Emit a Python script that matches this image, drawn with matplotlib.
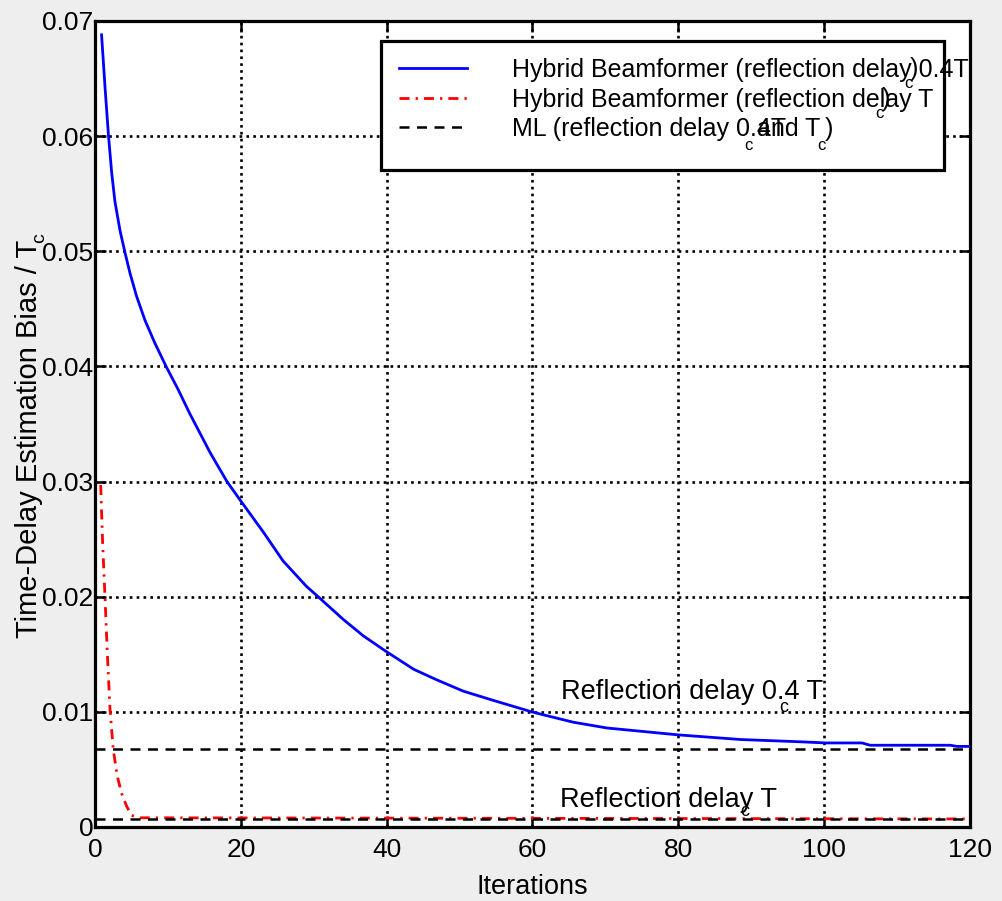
import matplotlib
matplotlib.use("Agg")
import matplotlib.pyplot as plt
from matplotlib.patches import Rectangle

plt.rcParams['font.family'] = ['Liberation Sans', 'DejaVu Sans']

# ---------------- data ----------------
hb04_iter = [0.9, 1.37, 1.83, 2.29, 2.74, 3.43, 4.11, 4.8, 5.7, 6.86, 8.23, 9.83,
             11.4, 13.0, 14.4, 15.8, 18.1, 19.9, 23.1, 25.8, 29.0, 30.6, 34.1,
             36.8, 39.8, 43.7, 46.8, 50.5, 54.6, 59.9, 62.4, 65.6, 70.2, 80,
             88.5, 96.7, 100.3, 105.2, 106.3, 117.3, 118.2, 120]
hb04_bias = [0.0688, 0.0643, 0.0602, 0.0568, 0.0543, 0.0518, 0.0499, 0.0481, 0.0461,
             0.0440, 0.0420, 0.0399, 0.0380, 0.0359, 0.0342, 0.0325, 0.0300, 0.0284,
             0.0256, 0.0231, 0.0209, 0.0200, 0.0180, 0.0166, 0.0153, 0.0137, 0.0128,
             0.0118, 0.0110, 0.0100, 0.0096, 0.0091, 0.0086, 0.0080, 0.0076, 0.0074,
             0.0073, 0.0073, 0.0071, 0.0071, 0.0070, 0.0070]

hbT_iter = [0.78, 1.05, 1.37, 1.69, 2.06, 2.51, 3.06, 3.66, 4.34, 5.03, 6.17, 120]
hbT_bias = [0.0297, 0.0246, 0.0200, 0.0151, 0.0102, 0.0067, 0.0044, 0.0029, 0.0018,
            0.0010, 0.0008, 0.0007]

ml_iter = [0, 120]
ml_bias_04 = [0.0068, 0.0068]
ml_bias_T = [0.0007, 0.0007]

xticks = [0, 20, 40, 60, 80, 100, 120]
yticks = [0, 0.01, 0.02, 0.03, 0.04, 0.05, 0.06, 0.07]
ytick_labels = ["0", "0.01", "0.02", "0.03", "0.04", "0.05", "0.06", "0.07"]

legend_labels = ["Hybrid Beamformer (reflection delay 0.4T",
                 "Hybrid Beamformer (reflection delay T",
                 "ML (reflection delay 0.4T"]

# ---------------- figure ----------------
W, H = 1002, 901
fig = plt.figure(figsize=(W / 100, H / 100), dpi=100, facecolor='#eeeeee')
ax = fig.add_axes([95 / W, (H - 827) / H, 875 / W, 806 / H])
ax.set_facecolor('white')


def fx(px):
    return px / W


def fy(py):
    return 1 - py / H


l1, = ax.plot(hb04_iter, hb04_bias, color='#0000ff', lw=2.0, zorder=3)
l2, = ax.plot(hbT_iter, hbT_bias, color='#ff0000', lw=2.0,
              linestyle=(0, (3.6, 2.2, 0.8, 2.2)), zorder=3)
l3, = ax.plot(ml_iter, ml_bias_04, color='black', lw=1.8,
              linestyle=(0, (4, 3)), zorder=4)
ax.plot(ml_iter, ml_bias_T, color='black', lw=1.8,
        linestyle=(0, (4, 3)), zorder=4)

ax.set_xlim(0, 120)
ax.set_ylim(0, 0.07)
ax.set_xticks(xticks)
ax.set_xticklabels([str(t) for t in xticks])
ax.set_yticks(yticks)
ax.set_yticklabels(ytick_labels)
ax.tick_params(axis='both', direction='in', length=8, width=1.8,
               labelsize=19, top=True, right=True, colors='black')
ax.tick_params(axis='x', pad=8)
ax.tick_params(axis='y', pad=1)
ax.grid(True, color='black', linestyle=(0, (1, 1.6)), linewidth=1.9, zorder=1)
ax.set_axisbelow(True)
for s in ax.spines.values():
    s.set_linewidth(2.3)
    s.set_color('black')

ax.set_xlabel("Iterations", fontsize=19.5)
ax.xaxis.set_label_coords(0.5, -0.058)
ax.set_ylabel("Time-Delay Estimation Bias / T", fontsize=21)
ax.yaxis.set_label_coords(-0.059, 0.482)
fig.text(fx(40), fy(238), "c", fontsize=14, rotation=90,
         ha='center', va='center')

# ---------------- legend ----------------
ax.add_patch(Rectangle((fx(381), fy(170)), fx(944) - fx(381), fy(41) - fy(170),
                       transform=fig.transFigure, facecolor='white',
                       edgecolor='black', linewidth=2.3, zorder=6,
                       clip_on=False))
leg = ax.legend([l1, l2, l3], legend_labels, loc='upper left',
                bbox_to_anchor=(fx(399), fy(58)), bbox_transform=fig.transFigure,
                frameon=False, fontsize=18, handlelength=2.72,
                handletextpad=1.8, labelspacing=0.22, borderpad=0,
                borderaxespad=0)
leg.set_zorder(7)

sub = dict(fontsize=12, ha='center', va='center', zorder=8)
txt = dict(fontsize=18, ha='center', va='baseline', zorder=8)
# row 1 misplaced subscript
fig.text(fx(908), fy(83), "c", **sub)
fig.text(fx(914), fy(76), ")", **txt)
# row 2
fig.text(fx(879), fy(114), "c", **sub)
fig.text(fx(886), fy(106), ")", **txt)
# row 3
fig.text(fx(748), fy(145), "c", **sub)
fig.text(fx(757), fy(136), "and T", fontsize=18, ha='left', va='baseline', zorder=8)
fig.text(fx(821), fy(145), "c", **sub)
fig.text(fx(829), fy(136), ")", **txt)

# ---------------- annotations ----------------
ax.text(63.9, 0.0111, "Reflection delay 0.4 T", fontsize=19.5, ha='left',
        va='baseline', zorder=5)
fig.text(fx(784), fy(707), "c", fontsize=13, ha='center', va='center')
ax.text(63.8, 0.0017, "Reflection delay T", fontsize=19.5, ha='left',
        va='baseline', zorder=5)
fig.text(fx(745), fy(812), "c", fontsize=13, ha='center', va='center')

fig.savefig("out.png", dpi=100, facecolor=fig.get_facecolor())
